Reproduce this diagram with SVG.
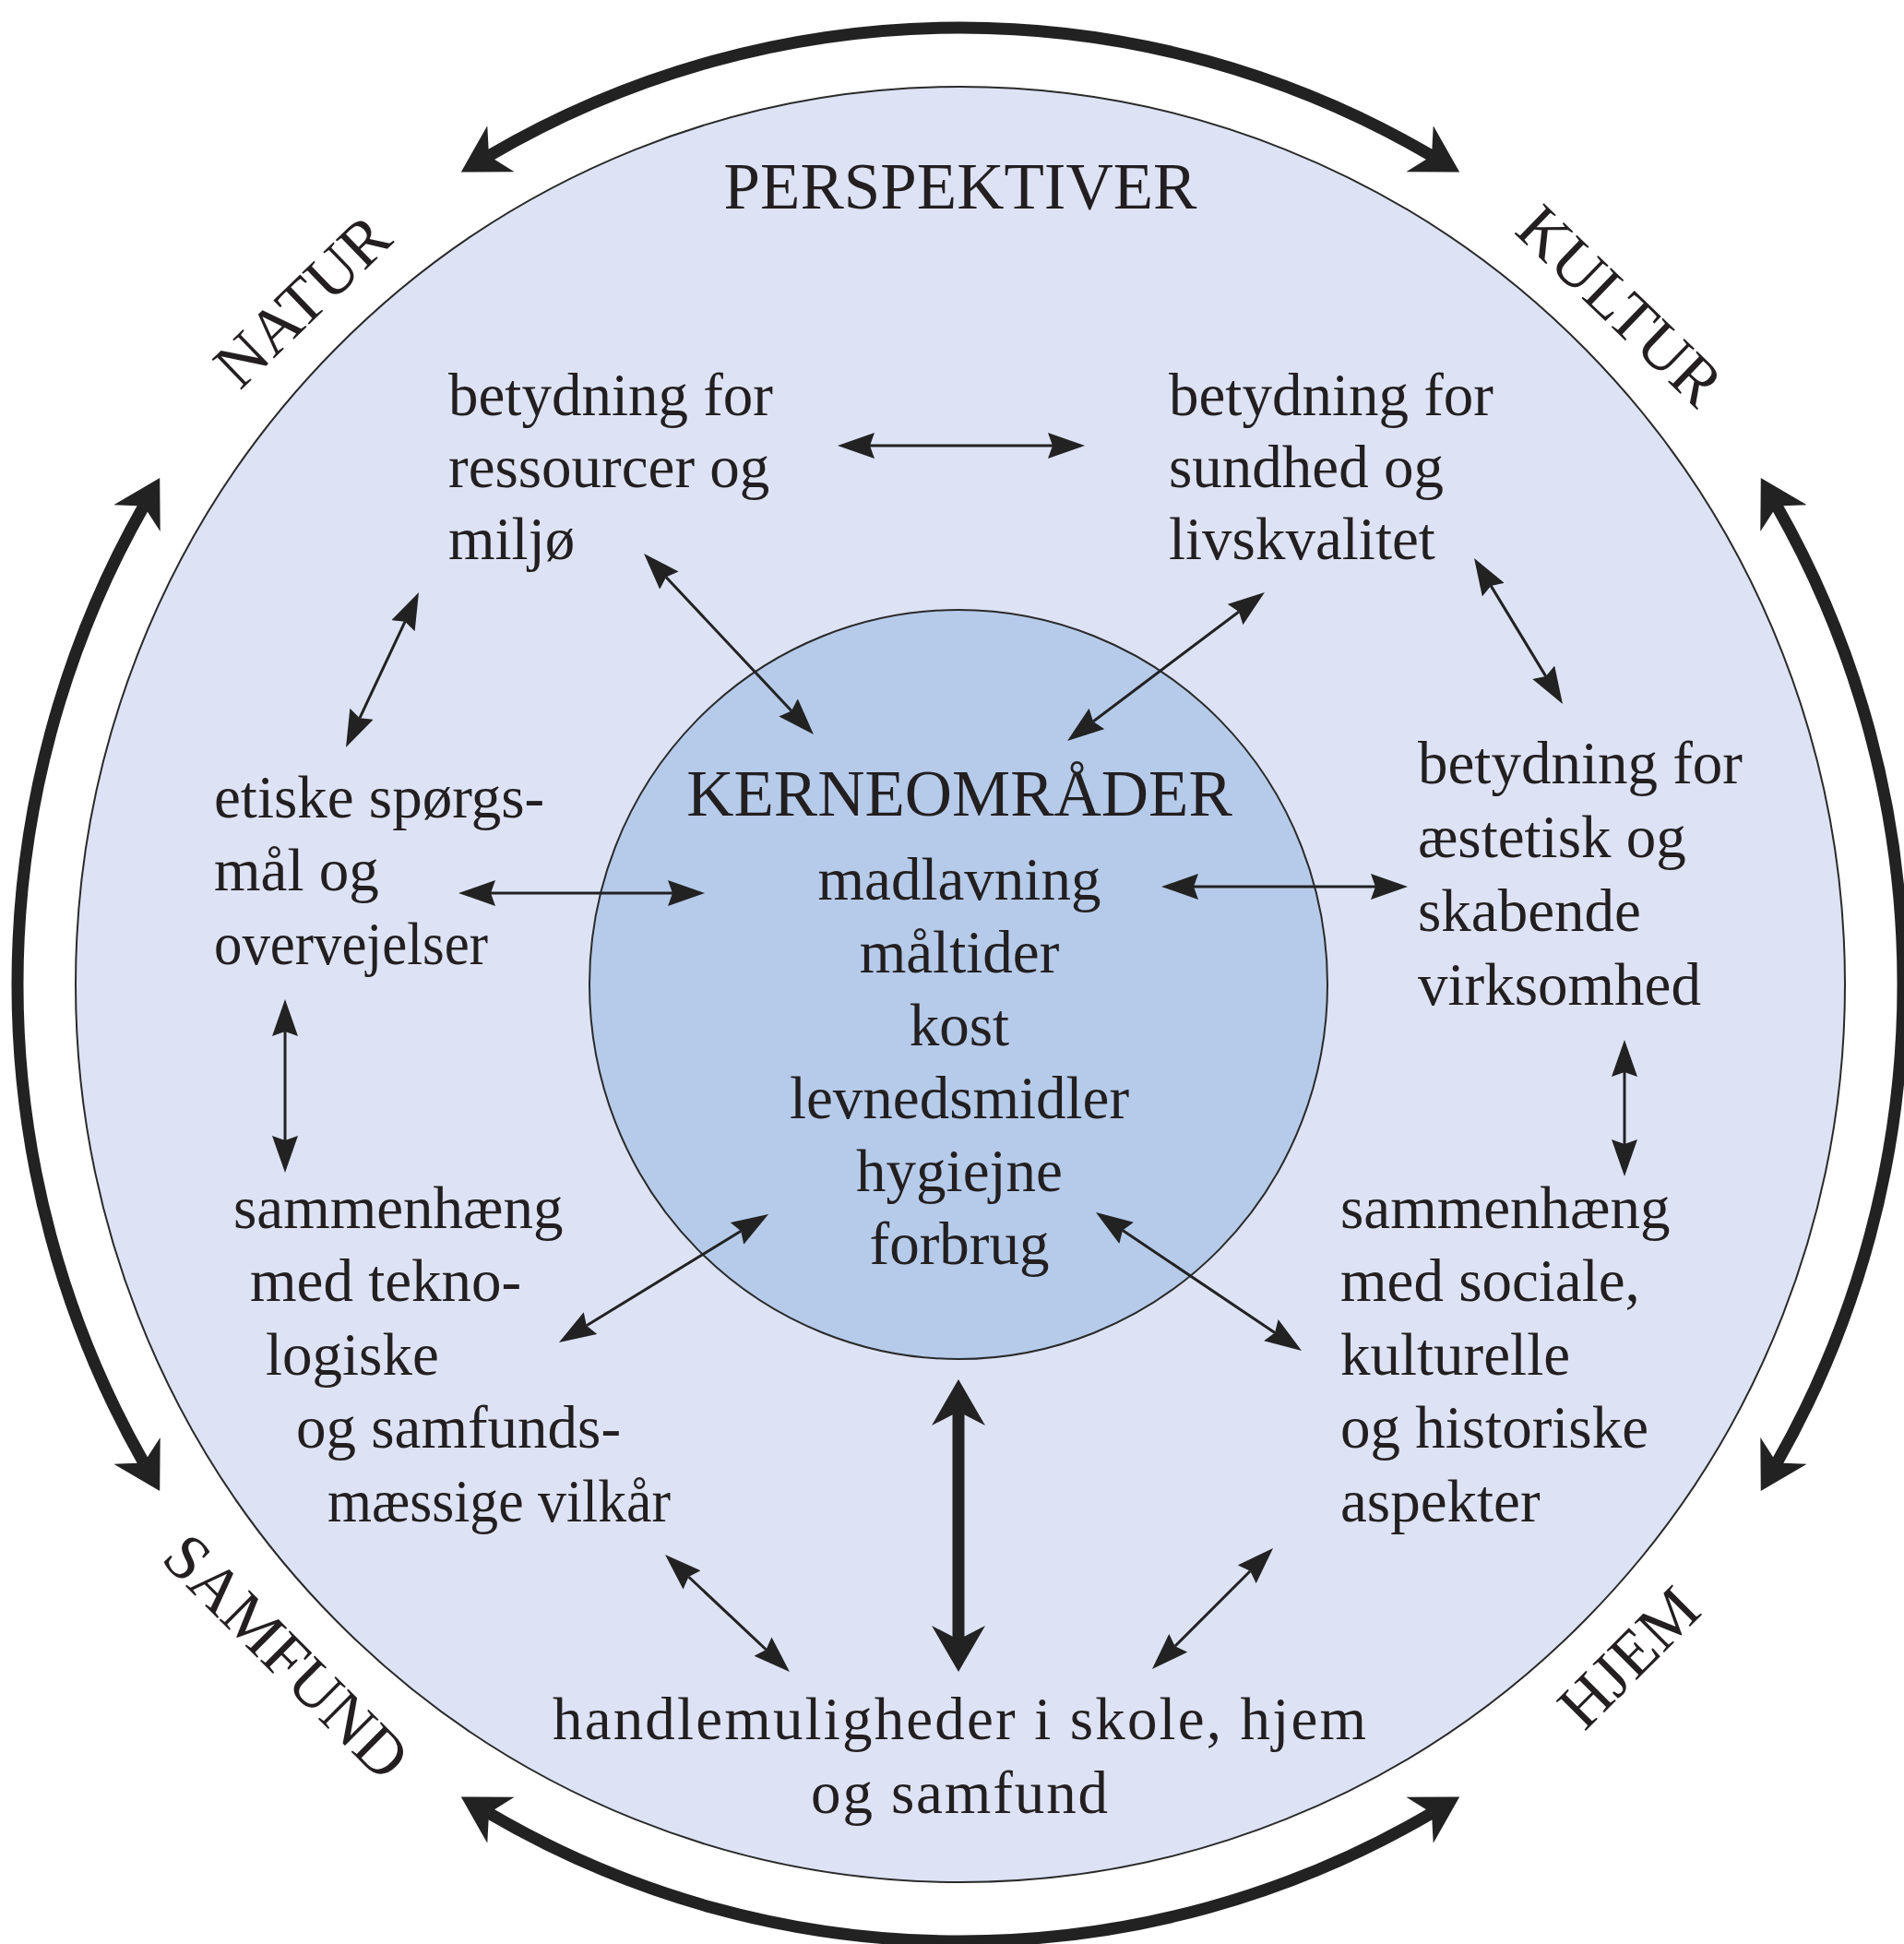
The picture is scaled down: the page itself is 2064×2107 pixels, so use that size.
<svg xmlns="http://www.w3.org/2000/svg" width="2064" height="2107" viewBox="0 0 2064 2107">
  <defs>
    <style>
      text { font-family: "Liberation Serif", "Times New Roman", serif; fill: #231f20; }
      .body { font-size: 65px; }
      .mid { text-anchor: middle; }
      .head { font-size: 71px; }
      .outer { font-size: 70px; text-anchor: middle; }
      .thin { stroke: #222; stroke-width: 3; fill: none; marker-start: url(#thinHead); marker-end: url(#thinHead); }
      .bold { stroke: #222; stroke-width: 13; fill: none; marker-start: url(#boldHead); marker-end: url(#boldHead); }
    </style>
    <marker id="thinHead" markerUnits="userSpaceOnUse" viewBox="0 0 40 28" markerWidth="40" markerHeight="28" refX="5" refY="14" orient="auto-start-reverse">
      <path d="M40,14 L0,0 L5,14 L0,28 Z" fill="#222"/>
    </marker>
    <marker id="boldHead" markerUnits="userSpaceOnUse" viewBox="0 0 52 62" markerWidth="52" markerHeight="62" refX="15" refY="31" orient="auto-start-reverse">
      <path d="M0,2 L50,31 L0,60 L15,31 Z" fill="#222"/>
    </marker>
  </defs>

  <rect width="2064" height="2107" fill="#ffffff"/>

  <g id="outer-circle">
    <ellipse cx="1041" cy="1067" rx="959" ry="973" fill="#dde3f5" stroke="#2a2a2a" stroke-width="2"/>
  </g>

  <g id="perspective-arcs">
    <path class="bold" d="M530,168.9 A1022,1037 0 0 1 1552,168.9"/>
    <path class="bold" d="M1926.1,548.5 A1022,1037 0 0 1 1926.1,1585.5"/>
    <path class="bold" d="M1552,1965.1 A1022,1037 0 0 1 530,1965.1"/>
    <path class="bold" d="M155.9,1585.5 A1022,1037 0 0 1 155.9,548.5"/>
  </g>

  <g id="inner-circle">
    <ellipse cx="1039" cy="1067" rx="400" ry="406" fill="#b6cbea" stroke="#2a2a2a" stroke-width="2"/>
  </g>

  <g id="connectors">
    <line class="thin" x1="943" y1="483" x2="1141" y2="483"/>
    <line class="thin" x1="722" y1="625.5" x2="858" y2="770.5"/>
    <line class="thin" x1="1343" y1="663" x2="1185" y2="782"/>
    <line class="thin" x1="439.1" y1="673.7" x2="389.9" y2="778.3"/>
    <line class="thin" x1="1616.2" y1="634.9" x2="1675.8" y2="733.1"/>
    <line class="thin" x1="532" y1="968" x2="729" y2="968"/>
    <line class="thin" x1="1294" y1="961" x2="1491" y2="961"/>
    <line class="thin" x1="309" y1="1118" x2="309" y2="1236"/>
    <line class="thin" x1="1761" y1="1162" x2="1761" y2="1240"/>
    <line class="thin" x1="803.2" y1="1334.3" x2="635.8" y2="1436.7"/>
    <line class="thin" x1="1217" y1="1333.5" x2="1382" y2="1444.5"/>
    <line class="thin" x1="746.5" y1="1709" x2="830.5" y2="1788"/>
    <line class="thin" x1="1355.3" y1="1702.7" x2="1273.7" y2="1784.3"/>
    <line class="bold" x1="1039" y1="1530" x2="1039" y2="1777"/>
  </g>

  <g id="label-perspektiver">
    <text class="head mid" x="1041" y="226">PERSPEKTIVER</text>
  </g>
  <g id="label-natur">
    <text class="outer" transform="translate(344,343) rotate(-44)">NATUR</text>
  </g>
  <g id="label-kultur">
    <text class="outer" transform="translate(1740,348) rotate(44)">KULTUR</text>
  </g>
  <g id="label-samfund">
    <text class="outer" transform="translate(294,1812) rotate(45)">SAMFUND</text>
  </g>
  <g id="label-hjem">
    <text class="outer" transform="translate(1782,1813) rotate(-45)">HJEM</text>
  </g>

  <g id="node-ressourcer">
    <text class="body" x="486" y="450">betydning for</text>
    <text class="body" x="486" y="528">ressourcer og</text>
    <text class="body" x="486" y="606">miljø</text>
  </g>
  <g id="node-sundhed">
    <text class="body" x="1267" y="450">betydning for</text>
    <text class="body" x="1267" y="528">sundhed og</text>
    <text class="body" x="1267" y="606">livskvalitet</text>
  </g>
  <g id="node-aestetisk">
    <text class="body" x="1537" y="849">betydning for</text>
    <text class="body" x="1537" y="929">æstetisk og</text>
    <text class="body" x="1537" y="1009">skabende</text>
    <text class="body" x="1537" y="1089">virksomhed</text>
  </g>
  <g id="node-etiske">
    <text class="body" x="232" y="886">etiske spørgs-</text>
    <text class="body" x="232" y="965">mål og</text>
    <text class="body" x="232" y="1045" textLength="297" lengthAdjust="spacingAndGlyphs">overvejelser</text>
  </g>
  <g id="node-kerneomraader">
    <text class="head mid" x="1040" y="884">KERNEOMRÅDER</text>
    <text class="body mid" x="1040" y="975">madlavning</text>
    <text class="body mid" x="1040" y="1054">måltider</text>
    <text class="body mid" x="1040" y="1133">kost</text>
    <text class="body mid" x="1040" y="1212">levnedsmidler</text>
    <text class="body mid" x="1040" y="1291">hygiejne</text>
    <text class="body mid" x="1040" y="1370">forbrug</text>
  </g>
  <g id="node-teknologiske">
    <text class="body" x="253" y="1331">sammenhæng</text>
    <text class="body" x="271" y="1410">med tekno-</text>
    <text class="body" x="288" y="1490">logiske</text>
    <text class="body" x="321" y="1569">og samfunds-</text>
    <text class="body" x="355" y="1649" textLength="372" lengthAdjust="spacingAndGlyphs">mæssige vilkår</text>
  </g>
  <g id="node-sociale">
    <text class="body" x="1453" y="1331">sammenhæng</text>
    <text class="body" x="1453" y="1410">med sociale,</text>
    <text class="body" x="1453" y="1490">kulturelle</text>
    <text class="body" x="1453" y="1569">og historiske</text>
    <text class="body" x="1453" y="1649">aspekter</text>
  </g>
  <g id="node-handlemuligheder">
    <text class="body mid" x="1040" y="1885" textLength="882" lengthAdjust="spacing">handlemuligheder i skole, hjem</text>
    <text class="body mid" x="1040" y="1965" textLength="322" lengthAdjust="spacing">og samfund</text>
  </g>
</svg>
